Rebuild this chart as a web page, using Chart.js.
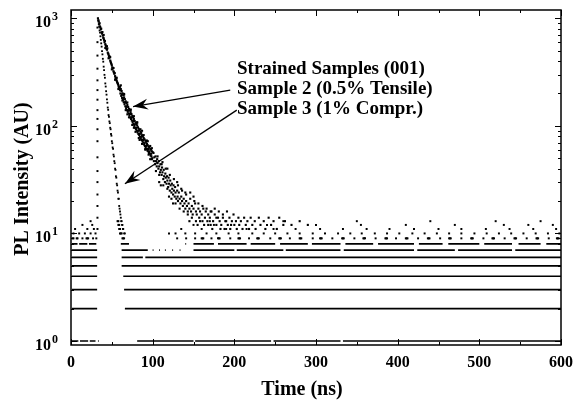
<!DOCTYPE html>
<html><head><meta charset="utf-8">
<script src="https://cdn.jsdelivr.net/npm/chart.js@4"></script>
<style>html,body{margin:0;padding:0;background:#fff}</style>
</head><body>
<canvas id="c" width="574" height="401"></canvas>
<script>
// ---------- axes / text ----------
const xTickValues = [0, 100, 200, 300, 400, 500, 600];
const yDecades = [1, 10, 100, 1000];
const yExponents = ['0', '1', '2', '3'];
const xAxisTitle = 'Time (ns)';
const yAxisTitle = 'PL Intensity (AU)';
const annotationLines = ['Strained Samples (001)', 'Sample 2 (0.5% Tensile)', 'Sample 3 (1% Compr.)'];

// ---------- Sample 2 (0.5% tensile, slow decay): [time ns, counts] ----------
const sample2Points = [
[33,1000],[33.5,960],[34,930],[34.5,880],[35,900],[35.5,840],[36,820],[36.5,790],[37,800],[37.5,740],
[38,720],[38.5,745],[39,690],[39.5,660],[40,650],[40.5,630],[41,600],[41.5,615],[42,575],[42.5,560],
[43,545],[43.5,520],[44,510],[44.5,525],[45,480],[45.5,470],[46,460],[46.5,445],[47,430],[47.5,440],
[48,405],[48.5,395],[49,385],[49.5,375],[50,365],[50.5,350],[51,340],[51.5,345],[52,322],[52.5,315],
[53,305],[53.5,310],[54,290],[54.5,280],[55,276],[55.5,270],[56,262],[56.5,255],[57,250],[57.5,245],
[58,238],[58.5,230],[59,226],[59.5,222],[60,216],
[40,700],[42,530],[44,550],[46,425],[48,435],[50,335],[52,345],[54,268],[56,280],[58,220],
[60,231],[60.5,200],[61,220],[61.5,190],[62,211],[62.5,182],[63,201],[63.5,174],[64,193],[64.5,166],
[65,184],[65.5,159],[66,177],[66.5,152],[67,169],[67.5,146],[68,163],[68.5,140],[69,156],[69.5,135],
[70,150],[70.5,130],[71,144],[71.5,125],[72,139],[72.5,120],[73,134],[73.5,116],[74,129],[74.5,112],
[75,124],[75.5,108],[76,120],[76.5,104],[77,116],[77.5,100],[78,111],[78.5,96],[79,107],[79.5,93],
[80,104],[80.5,90],[81,101],[81.5,87],[82,97],[82.5,84],[83,94],[83.5,82],[84,91],[84.5,79],
[85,88],[85.5,76],[86,86],[86.5,74],[87,82],[87.5,72],[88,80],[88.5,70],[89,77],[89.5,67],
[90,75],[90.5,65],[91,73],[91.5,63],[92,71],[92.5,61],[93,68],[93.5,59],[94,66],[94.5,58],
[95,64],[95.5,56],[96,63],[96.5,55],[97,61],[97.5,53],[98,60],[98.5,52],[99,58],[99.5,50],[100,57],
[60.2,214],[62.2,196],[64.2,179],[66.2,165],[68.2,151],[70.2,139],[72.2,129],[74.2,120],[76.2,111],[78.2,103],
[80.2,96],[82.2,90],[84.2,84],[86.2,79],[88.2,74],[90.2,69],[92.2,65],[94.2,61],[96.2,58],[98.2,55],
[65,195],[69,128],[73,140],[77,96],[81,108],[84,74],[87,90],[91,60],[94,72],[97,49],[99,62],
[61,238],[63,172],[65,198],[67,140],[69,165],[71,120],[73,142],[75,102],[77,123],[79,88],
[81,107],[83,77],[85,93],[87,68],[89,82],[91,61],[93,73],[95,54],[97,65],[99,49],
[101,56],[101.5,47],[102,51],[103,44],[103.5,52],[104,47],[105,42],[105.5,49],[106,45],[107,40],
[107.5,47],[108,42],[109,37],[109.5,44],[110,39],[111,35],[111.5,41],[112,37],[113,32],[113.5,39],
[114,34],[115,30],[115.5,36],[116,33],[117,29],[117.5,34],[118,31],[119,27],[119.5,33],[120,29],
[121,25],[121.5,31],[122,28],[123,24],[123.5,29],[124,26],[125,23],[125.5,28],[126,25],[127,22],
[127.5,27],[128,24],[129,21],[130,25],[130.5,22],[131,20],[132,24],[133,21],[134,19],[135,22],
[136,20],[137,18],[138,21],[139,19],[140,17],[141,20],[142,18],[143,16],[144,19],[145,17],
[146,21],[147,16],[148,18],[149,15],[150,17],[152,19],[153,16],[154,15],[156,17],[157,14],
[158,16],[160,15],[161,13],[162,17],[164,14],[165,16],[167,13],[168,15],[170,14],[171,12],
[172,16],[174,13],[176,15],[178,12],[180,14],[182,13],[184,12],[186,14],[188,11],[190,13],
[192,12],[195,11],[197,13],[200,12],[203,11],[206,12],[210,11],[214,12],[218,11],[222,12],
[226,11],[232,12],[238,11],[245,12],[252,11],[260,12],
[108,30],[112,46],[118,40],[125,19],[130,30],[135,26],[110,28],[120,22],[140,24],[145,13],[150,22],[155,12],
[104,38],[106,52],[108,35],[111,44],[113,28],[116,40],[118,26],[121,35],[123,21],[126,32],
[128,19],[131,28],[133,17],[136,25],[138,16],[141,23],[143,15],[146,24],[148,14],[151,20],
[153,13],[156,19],[158,13],[161,18],[163,12],[166,17],[168,12],[171,16],[173,11],[176,17],
[178,14],[181,16],[183,11],[186,15],[189,13],[191,16],[194,14],[196,12],[199,15],[202,13],
[205,14],[208,13],[212,14],[216,13],[220,14],[225,13],[230,14],[236,13],[242,14],[248,13],
[255,14],[262,13],[270,12],[280,13],[290,12]
];

// ---------- Sample 3 (1% compressive, fast decay): [time ns, counts] ----------
const sample3Points = [
[33.5,950],[34,880],[34.5,835],[35,770],[35.5,735],[36,680],[36.5,630],[37,585],[37.5,545],[38,495],
[38.5,462],[39,420],[39.5,395],[40,355],[40.5,330],[41,298],[41.5,280],[42,248],[42.5,232],[43,210],
[43.5,195],[44,176],[44.5,164],[45,148],[45.5,141],[46,126],[46.5,121],[47,110],[47.5,106],[48,96],
[48.5,93],[49,84],[49.5,81],[50,72],[50.5,69],[51,63],[51.5,61],[52,54],[52.5,52],[53,47],
[53.5,45],[54,40],[54.5,39],[55,34],[55.5,33],[56,29],[56.5,28],[57,25],[57.5,24],[58,21],
[58.5,21],[59,18],[59.5,17],[60,16],[60.5,15],[61,14],[61.5,13],[62,13],[62.5,12],[63,12],
[63.5,11],[64,11],[65,10],[66,10]
];

// ---------- rising edge (laser pulse), one time, many counts ----------
const riseTime = 32.4;
const riseCounts = [820, 600, 450, 340, 265, 215, 175, 140, 116, 93, 72, 51, 38, 30, 23, 18, 14, 11];

// ---------- quantized background: integer count levels, [start ns, end ns] runs ----------
const level1Runs = [[1,9],[11,21],[23,30],[33,34],[81,150],[152,245],[248,330],[333,600]];
const level2Runs = [[1,32],[66,600]];
const level3Runs = [[1,32],[65,600]];
const level4Runs = [[1,32],[64,600]];
const level5Runs = [[1,32],[62,600]];
const level6Runs = [[1,32],[62,88],[91,600]];
const level7Runs = [[1,32],[62,94],[100,101],[108,109],[115,116],[124,125],[133,134],[141,142],
  [150,200],[203,260],[263,330],[334,420],[424,470],[474,540],[544,600]];
const level8Runs = [[1,8],[10,20],[22,31],[61,71],[130,131],[140,141],[150,175],[180,215],[220,250],
  [256,290],[295,330],[336,370],[376,420],[426,455],[462,500],[506,540],[548,575],[582,600]];
// sparse counts at higher levels: times of isolated dots
const level9Times = [2,3,7,8,14,19,20,21,27,31,63,64,65,130,141,152,160,161,162,172,180,181,182,195,205,206,207,
  218,228,229,230,244,255,256,257,268,280,281,282,296,305,306,307,320,332,333,334,347,358,359,360,373,385,386,387,
  398,410,411,412,425,437,438,439,452,463,464,465,478,490,491,492,505,516,517,518,531,543,544,545,558,570,571,572,
  585,595,596,597];
const level10Times = [3,10,17,24,30,60,61,62,120,128,140,152,166,178,193,205,222,236,250,265,280,296,311,327,342,
  356,372,387,402,418,433,448,463,478,494,509,524,539,554,569,584,598];
const level11Times = [5,20,28,59,60,135,160,190,215,248,275,305,333,362,390,420,450,478,508,537,566,594];
const level12Times = [14,26,58,59,150,175,240,300,355,410,470,530,560,590];
const level13Times = [24,57,58,170,260,350,440,520,575];

const levelRuns = [level1Runs, level2Runs, level3Runs, level4Runs, level5Runs, level6Runs, level7Runs, level8Runs];
const sparseLevels = [[9, level9Times], [10, level10Times], [11, level11Times], [12, level12Times], [13, level13Times]];

// ---------- arrows: [from time, from counts, to time, to counts] ----------
const arrowSample2 = [195, 215, 76, 151];
const arrowSample3 = [203, 140, 66, 29];

// ---------- build datasets ----------
const datasets = [];
levelRuns.forEach((runs, i) => {
  const lv = i + 1;
  const data = [];
  runs.forEach(([a, b]) => { data.push({x: a, y: lv}, {x: b, y: lv}, {x: b, y: null}); });
  datasets.push({type: 'line', data, showLine: true, spanGaps: false, borderColor: '#000',
    borderWidth: 1.7, pointRadius: 0, borderCapStyle: 'butt'});
});
const dotStyle = {showLine: false, pointStyle: 'rect', pointRadius: 1.4, backgroundColor: '#000',
  borderWidth: 0, borderColor: '#000'};
sparseLevels.forEach(([lv, times]) => {
  datasets.push(Object.assign({data: times.map(t => ({x: t, y: lv}))}, dotStyle));
});
datasets.push(Object.assign({data: riseCounts.map(c => ({x: riseTime, y: c}))}, dotStyle));
datasets.push(Object.assign({data: sample3Points.map(([t, c]) => ({x: t, y: c}))}, dotStyle, {pointRadius: 1.3}));
datasets.push(Object.assign({data: sample2Points.map(([t, c]) => ({x: t, y: c}))}, dotStyle, {pointRadius: 1.5}));

const FONT = '"Liberation Serif", "Times New Roman", serif';

function drawArrow(ctx, x0, y0, x1, y1) {
  ctx.beginPath(); ctx.moveTo(x0, y0); ctx.lineTo(x1, y1); ctx.lineWidth = 1.3; ctx.stroke();
  const ang = Math.atan2(y1 - y0, x1 - x0);
  const L = 15, W = 5.5, N = 5;
  ctx.save(); ctx.translate(x1, y1); ctx.rotate(ang);
  ctx.beginPath(); ctx.moveTo(0, 0); ctx.lineTo(-L, -W); ctx.lineTo(-L + N, 0); ctx.lineTo(-L, W); ctx.closePath();
  ctx.fill(); ctx.restore();
}

const decor = {
  id: 'decor',
  afterDraw(chart) {
    const {ctx, chartArea: a, scales: {x, y}} = chart;
    ctx.save();
    ctx.strokeStyle = '#000'; ctx.fillStyle = '#000';
    // frame
    ctx.lineWidth = 1.5;
    ctx.strokeRect(a.left, a.top, a.right - a.left, a.bottom - a.top);
    // x ticks
    ctx.lineWidth = 1;
    for (let v = 0; v <= 600; v += 50) {
      const px = Math.round(x.getPixelForValue(v)) + 0.5;
      const len = v % 100 === 0 ? 6 : 3;
      ctx.beginPath();
      ctx.moveTo(px, a.bottom); ctx.lineTo(px, a.bottom - len);
      ctx.moveTo(px, a.top); ctx.lineTo(px, a.top + len);
      ctx.stroke();
    }
    // y ticks (log)
    for (let d = 1; d <= 1000; d *= 10) {
      for (let m = 1; m <= 9; m++) {
        const v = d * m;
        if (v > y.max || v < y.min) continue;
        const py = Math.round(y.getPixelForValue(v)) + 0.5;
        const len = m === 1 ? 6 : 3;
        ctx.beginPath();
        ctx.moveTo(a.left, py); ctx.lineTo(a.left + len, py);
        ctx.moveTo(a.right, py); ctx.lineTo(a.right - len, py);
        ctx.stroke();
      }
    }
    // x tick labels
    ctx.font = 'bold 16px ' + FONT;
    ctx.textAlign = 'center'; ctx.textBaseline = 'alphabetic';
    xTickValues.forEach(v => ctx.fillText(String(v), x.getPixelForValue(v), a.bottom + 22));
    // y tick labels 10^n
    yDecades.forEach((v, i) => {
      const py = y.getPixelForValue(v);
      ctx.font = 'bold 16px ' + FONT; ctx.textAlign = 'right';
      ctx.fillText('10', a.left - 20, py + 9);
      ctx.font = 'bold 12px ' + FONT; ctx.textAlign = 'left';
      ctx.fillText(yExponents[i], a.left - 19, py + 2);
    });
    // axis titles
    ctx.font = 'bold 20px ' + FONT; ctx.textAlign = 'center';
    ctx.fillText(xAxisTitle, 302, 395);
    ctx.save(); ctx.translate(28, 179); ctx.rotate(-Math.PI / 2);
    ctx.fillText(yAxisTitle, 0, 0); ctx.restore();
    // annotation
    ctx.font = 'bold 19px ' + FONT; ctx.textAlign = 'left';
    ctx.fillText(annotationLines[0], 237, 74);
    ctx.fillText(annotationLines[1], 237, 94);
    ctx.fillText(annotationLines[2], 237, 114);
    [arrowSample2, arrowSample3].forEach(([t0, c0, t1, c1]) => {
      drawArrow(ctx, x.getPixelForValue(t0), y.getPixelForValue(c0), x.getPixelForValue(t1), y.getPixelForValue(c1));
    });
    ctx.restore();
  }
};

new Chart(document.getElementById('c'), {
  type: 'scatter',
  data: {datasets},
  options: {
    responsive: false, animation: false, events: [],
    layout: {padding: {left: 71, right: 13, top: 10, bottom: 56}},
    plugins: {legend: {display: false}, tooltip: {enabled: false}},
    scales: {
      x: {type: 'linear', min: 0, max: 600, display: false},
      y: {type: 'logarithmic', min: 0.918, max: 1194, display: false}
    }
  },
  plugins: [decor]
});
</script>
</body></html>
